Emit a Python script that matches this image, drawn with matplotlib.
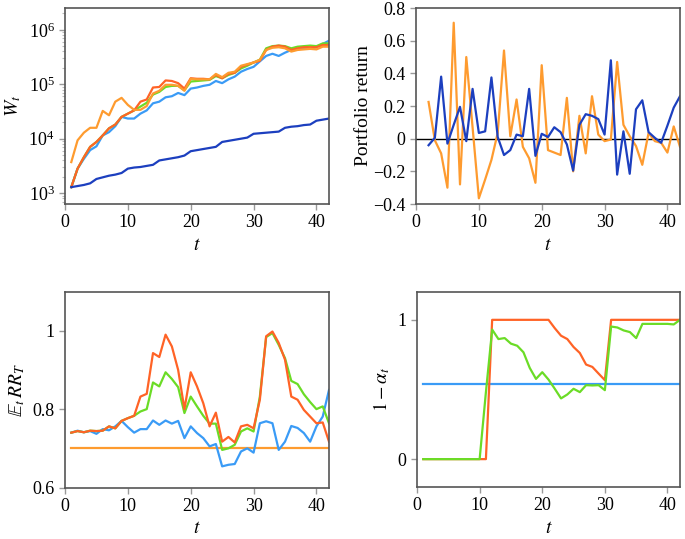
import numpy as np
import matplotlib
matplotlib.use("Agg")
import matplotlib.pyplot as plt
from matplotlib.ticker import FuncFormatter

plt.rcParams['font.family'] = ['Liberation Serif', 'DejaVu Serif']
plt.rcParams['mathtext.fontset'] = 'stix'
plt.rcParams['font.size'] = 13

DARKBLUE = '#1c3fbf'
LIGHTBLUE = '#3a9bf6'
ORANGE = '#fe9b2f'
RED = '#ff6326'
GREEN = '#6bdc26'

t = np.arange(1, 43)
t_ret = np.arange(2, 43)

# log10 of wealth W_t
logw_darkblue = [3.11, 3.13, 3.15, 3.18, 3.26, 3.29, 3.32, 3.34, 3.37, 3.45,
                 3.47, 3.48, 3.50, 3.52, 3.60, 3.62, 3.64, 3.66, 3.69, 3.77,
                 3.79, 3.81, 3.83, 3.85, 3.94, 3.96, 3.98, 4.00, 4.02, 4.09,
                 4.10, 4.11, 4.12, 4.13, 4.20, 4.22, 4.23, 4.25, 4.26, 4.33,
                 4.35, 4.37]
logw_orange = [3.57, 3.97, 4.11, 4.20, 4.20, 4.51, 4.43, 4.68, 4.75, 4.62,
               4.53, 4.53, 4.60, 4.83, 4.88, 4.99, 4.99, 4.97, 4.88, 5.10,
               5.09, 5.09, 5.09, 5.19, 5.13, 5.21, 5.23, 5.34, 5.37, 5.40,
               5.45, 5.63, 5.67, 5.68, 5.66, 5.60, 5.63, 5.64, 5.65, 5.64,
               5.69, 5.69]
logw_green = [3.11, 3.45, 3.66, 3.85, 3.94, 4.06, 4.19, 4.26, 4.40, 4.46,
              4.52, 4.59, 4.66, 4.81, 4.86, 4.95, 4.97, 4.97, 4.89, 5.05,
              5.06, 5.07, 5.08, 5.15, 5.11, 5.17, 5.21, 5.29, 5.34, 5.40,
              5.45, 5.66, 5.70, 5.71, 5.70, 5.66, 5.69, 5.70, 5.71, 5.70,
              5.75, 5.75]
logw_red = [3.11, 3.45, 3.66, 3.85, 3.94, 4.06, 4.19, 4.26, 4.40, 4.46,
            4.52, 4.68, 4.72, 4.94, 4.95, 5.07, 5.06, 5.02, 4.92, 5.11,
            5.10, 5.10, 5.09, 5.17, 5.11, 5.19, 5.21, 5.32, 5.36, 5.40,
            5.43, 5.63, 5.69, 5.71, 5.69, 5.63, 5.66, 5.68, 5.68, 5.68,
            5.72, 5.72]
logw_lightblue = [3.11, 3.45, 3.63, 3.79, 3.86, 4.06, 4.12, 4.23, 4.40, 4.37,
                  4.37, 4.46, 4.52, 4.65, 4.68, 4.76, 4.78, 4.84, 4.80, 4.92,
                  4.94, 4.97, 4.99, 5.06, 5.02, 5.09, 5.14, 5.23, 5.28, 5.32,
                  5.42, 5.52, 5.56, 5.52, 5.58, 5.63, 5.64, 5.66, 5.66, 5.68,
                  5.74, 5.80]

# portfolio returns, t = 2..42
ret_orange = [0.225, -0.01, -0.09, -0.30, 0.71, -0.28, 0.50, 0.07, -0.365, -0.25,
              -0.13, 0.035, 0.54, 0.015, 0.24, -0.05, -0.12, -0.27, 0.45, -0.07,
              -0.085, -0.10, 0.25, -0.20, 0.14, -0.09, 0.26, 0.025, -0.015, -0.005,
              0.47, 0.085, 0.015, -0.045, -0.16, 0.035, -0.015, -0.025, -0.085, 0.075,
              -0.05]
ret_darkblue = [-0.04, 0.005, 0.38, -0.03, 0.085, 0.195, -0.015, 0.305, 0.035, 0.045,
                0.375, 0.01, -0.10, -0.07, 0.025, 0.015, 0.305, -0.105, 0.03, 0.01,
                0.07, 0.04, -0.035, -0.195, 0.085, 0.15, 0.14, 0.12, 0.025, 0.48,
                -0.22, 0.045, -0.215, 0.18, 0.235, 0.04, 0.005, -0.025, 0.08, 0.19,
                0.26]

# E_t RR_T
rr_orange = [0.70] * 42
rr_blue = [0.740, 0.745, 0.741, 0.744, 0.737, 0.749, 0.746, 0.756, 0.770, 0.754,
           0.740, 0.749, 0.749, 0.771, 0.760, 0.771, 0.763, 0.770, 0.726, 0.756,
           0.739, 0.726, 0.705, 0.711, 0.654, 0.658, 0.660, 0.692, 0.700, 0.689,
           0.764, 0.769, 0.764, 0.696, 0.717, 0.757, 0.752, 0.739, 0.717, 0.756,
           0.781, 0.849]
rr_green = [0.740, 0.744, 0.741, 0.745, 0.744, 0.745, 0.756, 0.751, 0.770, 0.777,
            0.783, 0.794, 0.800, 0.868, 0.858, 0.894, 0.877, 0.856, 0.790, 0.832,
            0.807, 0.783, 0.763, 0.763, 0.696, 0.700, 0.709, 0.743, 0.751, 0.743,
            0.832, 0.984, 0.994, 0.964, 0.930, 0.872, 0.864, 0.838, 0.818, 0.800,
            0.807, 0.764]
rr_red = [0.740, 0.744, 0.741, 0.745, 0.744, 0.745, 0.756, 0.751, 0.770, 0.777,
          0.783, 0.832, 0.839, 0.943, 0.933, 0.990, 0.960, 0.900, 0.800, 0.894,
          0.858, 0.815, 0.756, 0.791, 0.717, 0.729, 0.715, 0.756, 0.760, 0.751,
          0.824, 0.986, 0.998, 0.969, 0.926, 0.832, 0.824, 0.798, 0.781, 0.764,
          0.766, 0.717]

# 1 - alpha_t
alpha_blue = [0.54] * 42
alpha_red = [0, 0, 0, 0, 0, 0, 0, 0, 0, 0,
             0, 1, 1, 1, 1, 1, 1, 1, 1, 1,
             1, 0.94, 0.886, 0.862, 0.805, 0.762, 0.679, 0.662, 0.614, 0.567,
             1, 1, 1, 1, 1, 1, 1, 1, 1, 1,
             1, 1]
alpha_green = [0, 0, 0, 0, 0, 0, 0, 0, 0, 0,
               0.48, 0.93, 0.862, 0.869, 0.829, 0.814, 0.767, 0.655, 0.576, 0.624,
               0.571, 0.505, 0.436, 0.464, 0.505, 0.481, 0.531, 0.529, 0.531, 0.495,
               0.952, 0.945, 0.924, 0.912, 0.869, 0.971, 0.971, 0.971, 0.971, 0.971,
               0.967, 1.0]


def fmt(v, pos):
    if abs(v) < 1e-9:
        return '0'
    return ('%g' % v).replace('-', '\u2212')


def style(ax):
    for s in ax.spines.values():
        s.set_color('#555555')
        s.set_linewidth(1.2)
    ax.tick_params(direction='out', color='#999999', length=4, width=1, labelsize=13)
    ax.tick_params(which='minor', direction='out', color='#bbbbbb', length=2.5, width=0.8)
    ax.set_xlim(0, 42)
    ax.set_xticks([0, 10, 20, 30, 40])
    ax.set_xlabel('$t$', fontsize=14)


fig = plt.figure(figsize=(6.85, 5.39), dpi=100)
ax1 = fig.add_axes([0.0949, 0.6215, 0.3854, 0.3636])
ax2 = fig.add_axes([0.6073, 0.6215, 0.3854, 0.3636])
ax3 = fig.add_axes([0.0949, 0.0955, 0.3854, 0.3636])
ax4 = fig.add_axes([0.6088, 0.0965, 0.3839, 0.3618])

lw = 1.6

# wealth
for vals, c in [(logw_lightblue, LIGHTBLUE), (logw_green, GREEN),
                (logw_red, RED), (logw_orange, ORANGE), (logw_darkblue, DARKBLUE)]:
    ax1.plot(t, 10 ** np.array(vals), color=c, lw=lw)
ax1.set_yscale('log')
ax1.set_ylim(10 ** 2.8, 10 ** 6.4)
ax1.set_ylabel('$W_t$', fontsize=14)
style(ax1)

# returns
ax2.axhline(0, color='black', lw=1)
ax2.plot(t_ret, ret_orange, color=ORANGE, lw=lw)
ax2.plot(t_ret, ret_darkblue, color=DARKBLUE, lw=lw)
ax2.set_ylim(-0.4, 0.8)
ax2.set_yticks([-0.4, -0.2, 0, 0.2, 0.4, 0.6, 0.8])
ax2.yaxis.set_major_formatter(FuncFormatter(fmt))
ax2.set_ylabel('Portfolio return', fontsize=14, labelpad=1)
style(ax2)

# expected relative return
ax3.plot(t, rr_orange, color=ORANGE, lw=lw)
ax3.plot(t, rr_blue, color=LIGHTBLUE, lw=lw)
ax3.plot(t, rr_green, color=GREEN, lw=lw)
ax3.plot(t, rr_red, color=RED, lw=lw)
ax3.set_ylim(0.6, 1.1)
ax3.set_yticks([0.6, 0.8, 1.0])
ax3.yaxis.set_major_formatter(FuncFormatter(fmt))
ax3.set_ylabel('$\\mathbb{E}_t\\,RR_T$', fontsize=14)
style(ax3)

# 1 - alpha
ax4.plot(t, alpha_blue, color=LIGHTBLUE, lw=lw)
ax4.plot(t, alpha_red, color=RED, lw=lw)
ax4.plot(t, alpha_green, color=GREEN, lw=lw)
ax4.set_ylim(-0.2, 1.2)
ax4.set_yticks([0, 1])
ax4.yaxis.set_major_formatter(FuncFormatter(fmt))
ax4.set_ylabel('$1-\\alpha_t$', fontsize=14)
style(ax4)

fig.savefig('out.png', dpi=100)
